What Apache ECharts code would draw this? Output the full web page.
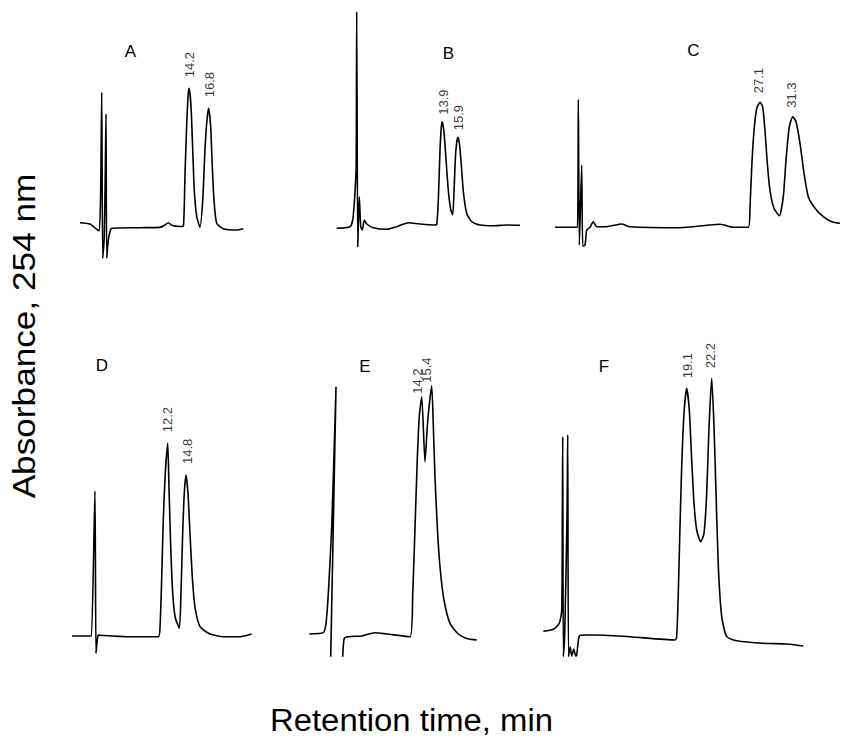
<!DOCTYPE html>
<html><head><meta charset="utf-8">
<script src="https://cdn.jsdelivr.net/npm/echarts@6/dist/echarts.min.js"></script>
<style>html,body{margin:0;padding:0;background:#fff}#c{width:843px;height:739px}</style>
</head><body><div id="c"></div>
<script>
// Panel names
const panelNames = ['A', 'B', 'C', 'D', 'E', 'F'];

// Chromatogram traces: [retention time (min), absorbance (arb. units above baseline)]
const traceA = [[0,5],[1.30,3.7],[2.17,-1.6],[2.51,-3],[2.69,40],[2.82,135.4],[2.95,-30.6],[3.15,-10],[3.29,60],[3.38,113.7],[3.47,-30.6],[3.68,-12.3],[3.90,-4],[4.12,-0.6],[7.79,0],[10.39,0.3],[11.04,2.7],[11.47,5],[11.91,2.4],[12.99,1.2],[13.42,1.5],[13.64,54],[13.86,104],[14.06,134],[14.18,139.4],[14.42,121],[14.64,77.7],[14.84,37.7],[15.16,11],[15.58,0.4],[15.94,27.7],[16.23,77.7],[16.49,107.7],[16.71,119.4],[16.97,101],[17.18,61],[17.40,27.7],[17.75,4.4],[18.61,-1],[20.35,-2.3],[21.21,-1]];
const traceB = [[0.09,-0.6],[1.82,1],[2.17,7.7],[2.34,21],[2.51,41],[2.62,60],[2.69,216],[2.82,-19],[2.92,10],[3.03,31],[3.21,1],[3.42,-2.3],[3.68,7.7],[3.99,3.7],[4.84,0],[6.58,-1.6],[7.88,1],[9.39,5],[10.91,3.7],[12.86,2.7],[13.08,3],[13.29,28],[13.51,78],[13.68,101],[13.81,106],[14.03,95],[14.29,68],[14.58,38],[14.90,18],[15.16,13],[15.32,35],[15.51,71],[15.69,86],[15.82,90.4],[16.03,84],[16.29,61],[16.55,35],[16.97,14.5],[17.62,6],[18.70,2.7],[20.43,2],[22.17,2.7],[23.90,2.4]];
const traceC = [[0.61,0],[3.21,0],[3.53,0],[3.64,128],[3.77,-17.7],[4.08,62.3],[4.21,-18.7],[4.51,-17.7],[4.73,-2.7],[5.16,0],[5.58,5.6],[6.03,0.6],[7.32,0.6],[9.27,3.3],[10.35,0.6],[16.84,-0.4],[22.04,3],[23.77,0],[25.71,0],[25.94,20.6],[26.16,60.6],[26.46,97],[26.81,119],[27.23,125],[27.58,120.6],[27.88,97],[28.18,64],[28.53,37],[29.05,19],[29.74,11.6],[30.26,30.6],[30.61,67],[31.04,100.6],[31.48,110.6],[31.91,105.6],[32.43,84],[32.95,54],[33.51,30.6],[34.38,19],[35.45,10.6],[36.55,5.6],[37.62,4]];
const traceD = [[-0.14,0],[2.19,0],[2.39,0],[2.84,145],[2.97,-17.3],[3.17,-2],[3.27,1],[3.49,0.7],[6.96,-0.7],[11.06,-0.7],[11.29,9.3],[11.51,59],[11.71,116],[11.97,162.7],[12.29,192.7],[12.45,149],[12.68,89],[12.94,42.7],[13.25,19],[13.79,7.7],[14.01,42.7],[14.23,102.7],[14.44,142.7],[14.66,161],[14.92,142.7],[15.18,102.7],[15.48,59],[15.83,29],[16.48,9.3],[17.78,2],[19.51,-0.7],[21.68,-0.7],[23.19,2]];
const traceE = [[-0.31,2.7],[1.51,4],[1.86,13.4],[2.16,43.4],[2.60,110],[3.16,250],[2.47,-20],[3.3,'-'],[4.03,-20],[4.23,-1.6],[4.75,0],[6.49,0.7],[6.92,1.7],[8.22,4],[9.74,2.7],[12.77,0],[13.12,43],[13.42,110],[13.71,177],[13.97,220],[14.29,240],[14.71,175],[15.06,215],[15.58,251],[15.79,212],[16.01,160],[16.31,110],[16.66,70],[17.18,36.7],[17.96,13.3],[19.04,2.7],[20.13,-1.7],[21.43,-3.3]];
const traceF = [[0.43,5.7],[1.73,7.7],[2.51,13.7],[2.82,27],[2.90,120],[2.95,200.3],[3.03,-19.7],[3.20,0],[3.51,120],[3.60,202],[3.70,-19.7],[3.92,-10],[4.12,-19],[4.38,-12],[4.64,-19],[4.77,-18],[5.10,1],[5.84,2],[7.36,2],[11.69,0.3],[17.53,-3],[17.75,0],[17.96,43.7],[18.18,110],[18.40,170],[18.70,223.7],[19.05,248.7],[19.39,227],[19.70,177],[20.00,133.7],[20.35,107],[20.87,95.3],[21.30,103.7],[21.65,143.7],[21.95,210],[22.30,258.7],[22.60,210],[22.86,143.7],[23.16,70.3],[23.60,20.3],[24.25,0.3],[25.55,-3.7],[29.00,-6.3],[32.04,-7],[34.19,-9]];

// Labelled peaks: [retention time (min), peak apex absorbance]
const peaksA = [[14.2,139.4],[16.8,119.4]];
const peaksB = [[13.9,106],[15.9,90.4]];
const peaksC = [[27.1,125],[31.3,110.6]];
const peaksD = [[12.2,192.7],[14.8,161]];
const peaksE = [[14.2,240],[15.4,251]];
const peaksF = [[19.1,248.7],[22.2,258.7]];

const traces = [traceA, traceB, traceC, traceD, traceE, traceF];
const peaks = [peaksA, peaksB, peaksC, peaksD, peaksE, peaksF];

const xTitle = 'Retention time, min';
const yTitle = 'Absorbance, 254 nm';

// Layout (pixels)
const PX_PER_MIN = 7.7, XMIN = -1, XMAX = 38, YMIN = -40;
const layout = [
  {origin: 80,    base: 227.7, ymax: 150, gap: 11, shift: 0,  letter: [130.5, 51]},
  {origin: 336,   base: 227.7, ymax: 225, gap: 7,  shift: 0,  letter: [448.5, 53]},
  {origin: 550.3, base: 227.3, ymax: 140, gap: 9,  shift: 0,  letter: [693.5, 50]},
  {origin: 73.1,  base: 636,   ymax: 200, gap: 11, shift: 0,  letter: [102, 365]},
  {origin: 311.7, base: 636.7, ymax: 260, gap: 3,  shift: -4, letter: [365, 366]},
  {origin: 540,   base: 637,   ymax: 265, gap: 10, shift: 0,  letter: [604, 366]}
];

const FONT = '"Liberation Sans", Arial, Helvetica, sans-serif';
const grid = [], xAxis = [], yAxis = [], series = [], graphic = [];
layout.forEach((L, i) => {
  grid.push({left: L.origin + XMIN * PX_PER_MIN, width: (XMAX - XMIN) * PX_PER_MIN,
             top: L.base - L.ymax, height: L.ymax - YMIN, containLabel: false});
  xAxis.push({type: 'value', gridIndex: i, min: XMIN, max: XMAX, show: false});
  yAxis.push({type: 'value', gridIndex: i, min: YMIN, max: L.ymax, show: false});
  series.push({type: 'line', xAxisIndex: i, yAxisIndex: i, data: traces[i], showSymbol: false,
               symbol: 'none', clip: false, connectNulls: false, silent: true, smooth: 0.2,
               lineStyle: {color: '#000', width: 1.6}});
  series.push({type: 'scatter', xAxisIndex: i, yAxisIndex: i, data: peaks[i], symbolSize: 0,
               clip: false, silent: true,
               label: {show: true, position: 'top', distance: L.gap, rotate: 90, align: 'left',
                       verticalAlign: 'middle', color: '#000', fontSize: 13, fontFamily: FONT,
                       offset: [0, L.shift],
                       formatter: p => p.value[0].toFixed(1)}});
  graphic.push({type: 'text', x: L.letter[0], y: L.letter[1],
                style: {text: panelNames[i], font: '17px ' + FONT, fill: '#000', align: 'center', verticalAlign: 'middle'}});
});
graphic.push({type: 'text', x: 411.5, y: 720, scaleX: 1.06,
              style: {text: xTitle, font: '31px ' + FONT, fill: '#000', align: 'center', verticalAlign: 'middle'}});
graphic.push({type: 'text', x: 24, y: 336, rotation: Math.PI / 2, scaleX: 1.1,
              style: {text: yTitle, font: '32px ' + FONT, fill: '#000', align: 'center', verticalAlign: 'middle'}});

const chart = echarts.init(document.getElementById('c'), null, {renderer: 'svg'});
chart.setOption({animation: false, backgroundColor: '#fff', grid, xAxis, yAxis, series, graphic});
</script></body></html>
